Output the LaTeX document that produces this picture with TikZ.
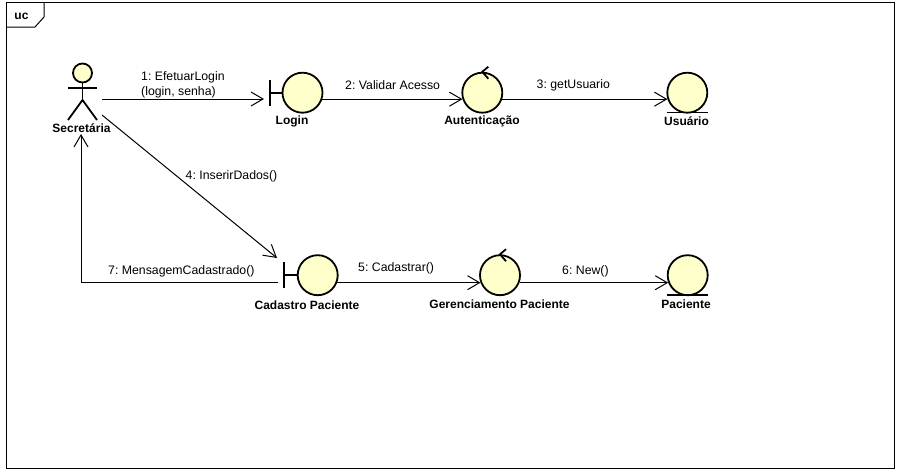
\documentclass[tikz,border=0pt]{standalone}
\usepackage{fontspec}
\setmainfont{Liberation Sans}
\usetikzlibrary{arrows.meta}
\definecolor{umlfill}{RGB}{255,255,204}
\frenchspacing
\tikzset{
  umlline/.style={line width=1.8pt},
  obj/.style={draw,umlline,circle,fill=umlfill,minimum size=40pt,inner sep=0pt},
  head/.style={draw,umlline,circle,fill=umlfill,minimum size=19pt,inner sep=0pt},
  msg/.style={line width=1pt,-{Straight Barb[length=12pt,width=14pt,line width=1pt]}},
  msgtext/.style={font=\fontsize{12.3}{15}\selectfont,inner sep=0pt,align=left},
  objtext/.style={font=\fontsize{12}{14}\selectfont\bfseries,inner sep=0pt},
}
\begin{document}
\begin{tikzpicture}[x=1pt,y=-1pt]
        \useasboundingbox (0,0) rectangle (902,471);
        \fill[white] (0,0) rectangle (902,471);

        % frame
        \draw[line width=1pt] (6,2) rectangle (894,468);
        \draw[line width=1pt] (44,2) -- (44,17) -- (35,27) -- (6,27);
        \node[objtext] (frametag) at (21.5,16.5) {uc};

        % actor
        \node[head] (actor) at (82.5,73) {};
        \draw[umlline] (actor.south) -- (82.5,100);
        \draw[umlline] (68,88) -- (97,88);
        \draw[umlline] (68,120) -- (82.5,100) -- (97,120);

        % objects
        \node[obj] (login) at (302.5,92.7) {};
        \node[obj] (auten) at (482.3,92.7) {};
        \node[obj] (usuario) at (687.3,92.7) {};
        \node[obj] (cadastro) at (317.7,275.2) {};
        \node[obj] (gerenc) at (500,275.2) {};
        \node[obj] (paciente) at (687.7,275.2) {};

        % boundary bars
        \draw[umlline] (login.west) -- (269.7,92.7);
        \draw[umlline] (269.7,79.7) -- (269.7,105.7);
        \draw[umlline] (cadastro.west) -- (284,275.2);
        \draw[umlline] (284,262.2) -- (284,288.2);

        % control arrows
        \draw[umlline] (488.3,66.7) -- (auten.north) -- (488.3,78.7);
        \draw[umlline] (506,249.2) -- (gerenc.north) -- (506,261.2);

        % entity lines
        \draw[umlline] (667,112.5) -- (708,112.5);
        \draw[umlline] (667,295) -- (708,295);

        % labelleds
        \node[objtext] (actorname) at (81.5,128.5) {Secretária};
        \node[objtext] (loginname) at (292,121.5) {Login};
        \node[objtext] (autenname) at (482,121.5) {Autenticação};
        \node[objtext] (usuarioname) at (686.5,121.5) {Usuário};
        \node[objtext] (cadastroname) at (307,305.5) {Cadastro Paciente};
        \node[objtext] (gerencname) at (499.5,304) {Gerenciamento Paciente};
        \node[objtext] (pacientename) at (686,304) {Paciente};

        %% free ends
        \coordinate (actorout) at (102,99);
        \coordinate (actorlow) at (102,115);
        \coordinate (logintip) at (264,99);
        \coordinate (cadtip) at (277,258);
        \coordinate (cadout) at (278,282.7);
        \coordinate (corner) at (81,282.7);
        \coordinate (actortip) at (81,134);

        %% arcs
        \draw[msg] (actorout) -- (logintip);
        \draw[msg] (login.-18) -- (auten.198);
        \draw[msg] (auten.-18) -- (usuario.198);
        \draw[msg] (actorlow) -- (cadtip);
        \draw[msg] (cadastro.-21) -- (gerenc.201);
        \draw[msg] (gerenc.-21) -- (paciente.201);
        \draw[msg] (cadout) -- (corner) -- (actortip);

        %% arc labels
        \node[msgtext,anchor=west] (m1) at (141,84.5) {1: EfetuarLogin\\(login, senha)};
        \node[msgtext,anchor=west] (m2) at (345,85) {2: Validar Acesso};
        \node[msgtext,anchor=west] (m3) at (536.5,85) {3: getUsuario};
        \node[msgtext,anchor=west] (m4) at (185.5,176) {4: InserirDados()};
        \node[msgtext,anchor=west] (m5) at (358,268) {5: Cadastrar()};
        \node[msgtext,anchor=west] (m6) at (562,271.5) {6: New()};
        \node[msgtext,anchor=west] (m7) at (108,271.5) {7: MensagemCadastrado()};
\end{tikzpicture}
\end{document}
